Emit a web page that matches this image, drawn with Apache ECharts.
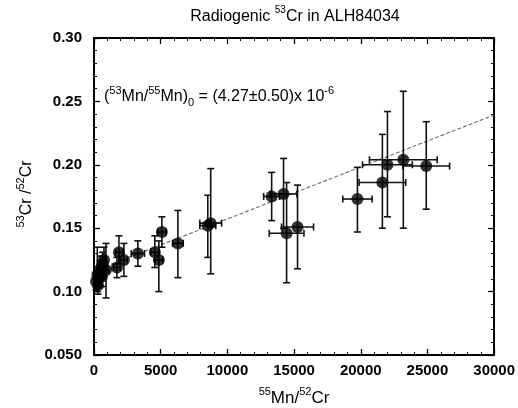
<!DOCTYPE html>
<html><head><meta charset="utf-8">
<script src="https://cdn.jsdelivr.net/npm/echarts@6/dist/echarts.min.js"></script>
<style>html,body{margin:0;padding:0;background:#fff}#c{width:518px;height:408px}</style>
</head><body><div id="c"></div>
<script>
// 55Mn/52Cr ratio (x) and 53Cr/52Cr ratio (y) with error bars
const mnCr   = [150, 250, 350, 300, 450, 550, 650, 750, 900, 600, 1720, 1870, 2240, 3290, 4560, 4860, 5090, 6290, 8530, 8750, 13320, 14210, 14440, 15260, 19750, 21620, 22000, 23190, 24910];
const crCr   = [0.108, 0.113, 0.110, 0.105, 0.116, 0.119, 0.122, 0.125, 0.117, 0.112, 0.119, 0.131, 0.125, 0.130, 0.131, 0.125, 0.147, 0.138, 0.152, 0.154, 0.175, 0.177, 0.146, 0.151, 0.173, 0.186, 0.200, 0.204, 0.199];
const mnErr  = [100, 120, 100, 100, 150, 150, 150, 150, 200, 150, 250, 250, 250, 500, 300, 300, 300, 400, 600, 820, 600, 1000, 1300, 1200, 1100, 1750, 1870, 2540, 1750];
const crLow  = [0.101, 0.100, 0.103, 0.098, 0.108, 0.110, 0.112, 0.115, 0.095, 0.104, 0.111, 0.122, 0.112, 0.120, 0.119, 0.100, 0.135, 0.111, 0.127, 0.114, 0.156, 0.150, 0.107, 0.118, 0.147, 0.150, 0.159, 0.150, 0.165];
const crHigh = [0.115, 0.135, 0.117, 0.112, 0.124, 0.128, 0.131, 0.135, 0.138, 0.120, 0.127, 0.144, 0.138, 0.140, 0.144, 0.140, 0.159, 0.164, 0.176, 0.197, 0.194, 0.205, 0.186, 0.184, 0.198, 0.224, 0.242, 0.258, 0.234];
// isochron fit line
const fitX = [0, 30000];
const fitY = [0.1163, 0.2393];
// ticks
const xTicks = [0, 5000, 10000, 15000, 20000, 25000, 30000];
const yTicks = [0.05, 0.10, 0.15, 0.20, 0.25, 0.30];

const points = mnCr.map((x, i) => [x, crCr[i], mnErr[i], crLow[i], crHigh[i]]);
const fit = fitX.map((x, i) => [x, fitY[i]]);

const FONT = 'Liberation Sans, Arial, Helvetica, sans-serif';
const chart = echarts.init(document.getElementById('c'), null, {renderer: 'canvas'});

function axisCommon(showLabel) {
  return {
    type: 'value',
    axisLine: {show: true, onZero: false, lineStyle: {color: '#000', width: 2}},
    axisTick: {show: true, inside: true, length: 6, lineStyle: {color: '#000', width: 1.3}},
    minorTick: {show: true, splitNumber: 5, length: 3, lineStyle: {color: '#000', width: 1}},
    splitLine: {show: false},
    axisLabel: {show: showLabel, color: '#000', fontFamily: FONT, fontSize: 15, fontWeight: 'bold'}
  };
}

const xa0 = Object.assign(axisCommon(true), {position: 'bottom', min: xTicks[0], max: xTicks[xTicks.length-1], interval: 5000});
xa0.axisLabel.margin = 8;
xa0.axisLabel.formatter = v => String(v);
const xa1 = Object.assign(axisCommon(false), {position: 'top', min: xTicks[0], max: xTicks[xTicks.length-1], interval: 5000});
const ya0 = Object.assign(axisCommon(true), {position: 'left', min: yTicks[0], max: yTicks[yTicks.length-1], interval: 0.05});
ya0.axisLabel.margin = 12;
ya0.axisLabel.formatter = v => Math.abs(v - 0.05) < 1e-9 ? '0.050' : v.toFixed(2);
const ya1 = Object.assign(axisCommon(false), {position: 'right', min: yTicks[0], max: yTicks[yTicks.length-1], interval: 0.05});

function rich(main, sup) {
  return {
    a: {fontSize: main, fontFamily: FONT, color: '#000', lineHeight: main + 7},
    s: {fontSize: sup, fontFamily: FONT, color: '#000', verticalAlign: 'top', lineHeight: sup},
    b: {fontSize: sup, fontFamily: FONT, color: '#000', verticalAlign: 'bottom', lineHeight: sup}
  };
}

chart.setOption({
  animation: false,
  backgroundColor: '#fff',
  grid: {left: 94, right: 23, top: 38, bottom: 53, containLabel: false},
  xAxis: [xa0, xa1],
  yAxis: [ya0, ya1],
  graphic: [
    {type: 'text', x: 295, y: 17, z: 10,
     style: {text: '{a|Radiogenic }{s|53}{a|Cr in ALH84034}', rich: rich(16, 10), align: 'center', verticalAlign: 'middle'}},
    {type: 'text', x: 294, y: 398, z: 10,
     style: {text: '{s|55}{a|Mn/}{s|52}{a|Cr}', rich: rich(17, 11), align: 'center', verticalAlign: 'middle'}},
    {type: 'text', x: 27, y: 194, rotation: Math.PI / 2, z: 10,
     style: {text: '{s|53}{a|Cr /}{s|52}{a|Cr}', rich: rich(16, 11), align: 'center', verticalAlign: 'middle'}},
    {type: 'text', x: 104, y: 97, z: 10,
     style: {text: '{a|(}{s|53}{a|Mn/}{s|55}{a|Mn)}{b|0}{a| = (4.27±0.50)x 10}{s|-6}', rich: rich(16, 11), align: 'left', verticalAlign: 'middle'}}
  ],
  series: [
    {
      type: 'line', data: fit, xAxisIndex: 0, yAxisIndex: 0, symbol: 'none', z: 1,
      lineStyle: {color: '#777', width: 1.2, type: [4, 2]}
    },
    {
      type: 'custom', data: points, xAxisIndex: 0, yAxisIndex: 0, z: 2,
      encode: {x: 0, y: 1},
      renderItem: function (params, api) {
        const x = api.value(0), y = api.value(1), xe = api.value(2), ylo = api.value(3), yhi = api.value(4);
        const pLo = api.coord([x, ylo]), pHi = api.coord([x, yhi]);
        const pL = api.coord([x - xe, y]), pR = api.coord([x + xe, y]);
        const c = 3.5;
        const st = {stroke: '#111', lineWidth: 1.6};
        const L = (x1, y1, x2, y2) => ({type: 'line', shape: {x1, y1, x2, y2}, style: st});
        return {type: 'group', children: [
          L(pLo[0], pLo[1], pHi[0], pHi[1]),
          L(pLo[0] - c, pLo[1], pLo[0] + c, pLo[1]),
          L(pHi[0] - c, pHi[1], pHi[0] + c, pHi[1]),
          L(pL[0], pL[1], pR[0], pR[1]),
          L(pL[0], pL[1] - c, pL[0], pL[1] + c),
          L(pR[0], pR[1] - c, pR[0], pR[1] + c)
        ]};
      }
    },
    {
      type: 'scatter', data: points.map(p => [p[0], p[1]]), xAxisIndex: 0, yAxisIndex: 0, z: 3,
      symbol: 'circle', symbolSize: 12, itemStyle: {color: '#000'}
    }
  ]
});
</script>
</body></html>
